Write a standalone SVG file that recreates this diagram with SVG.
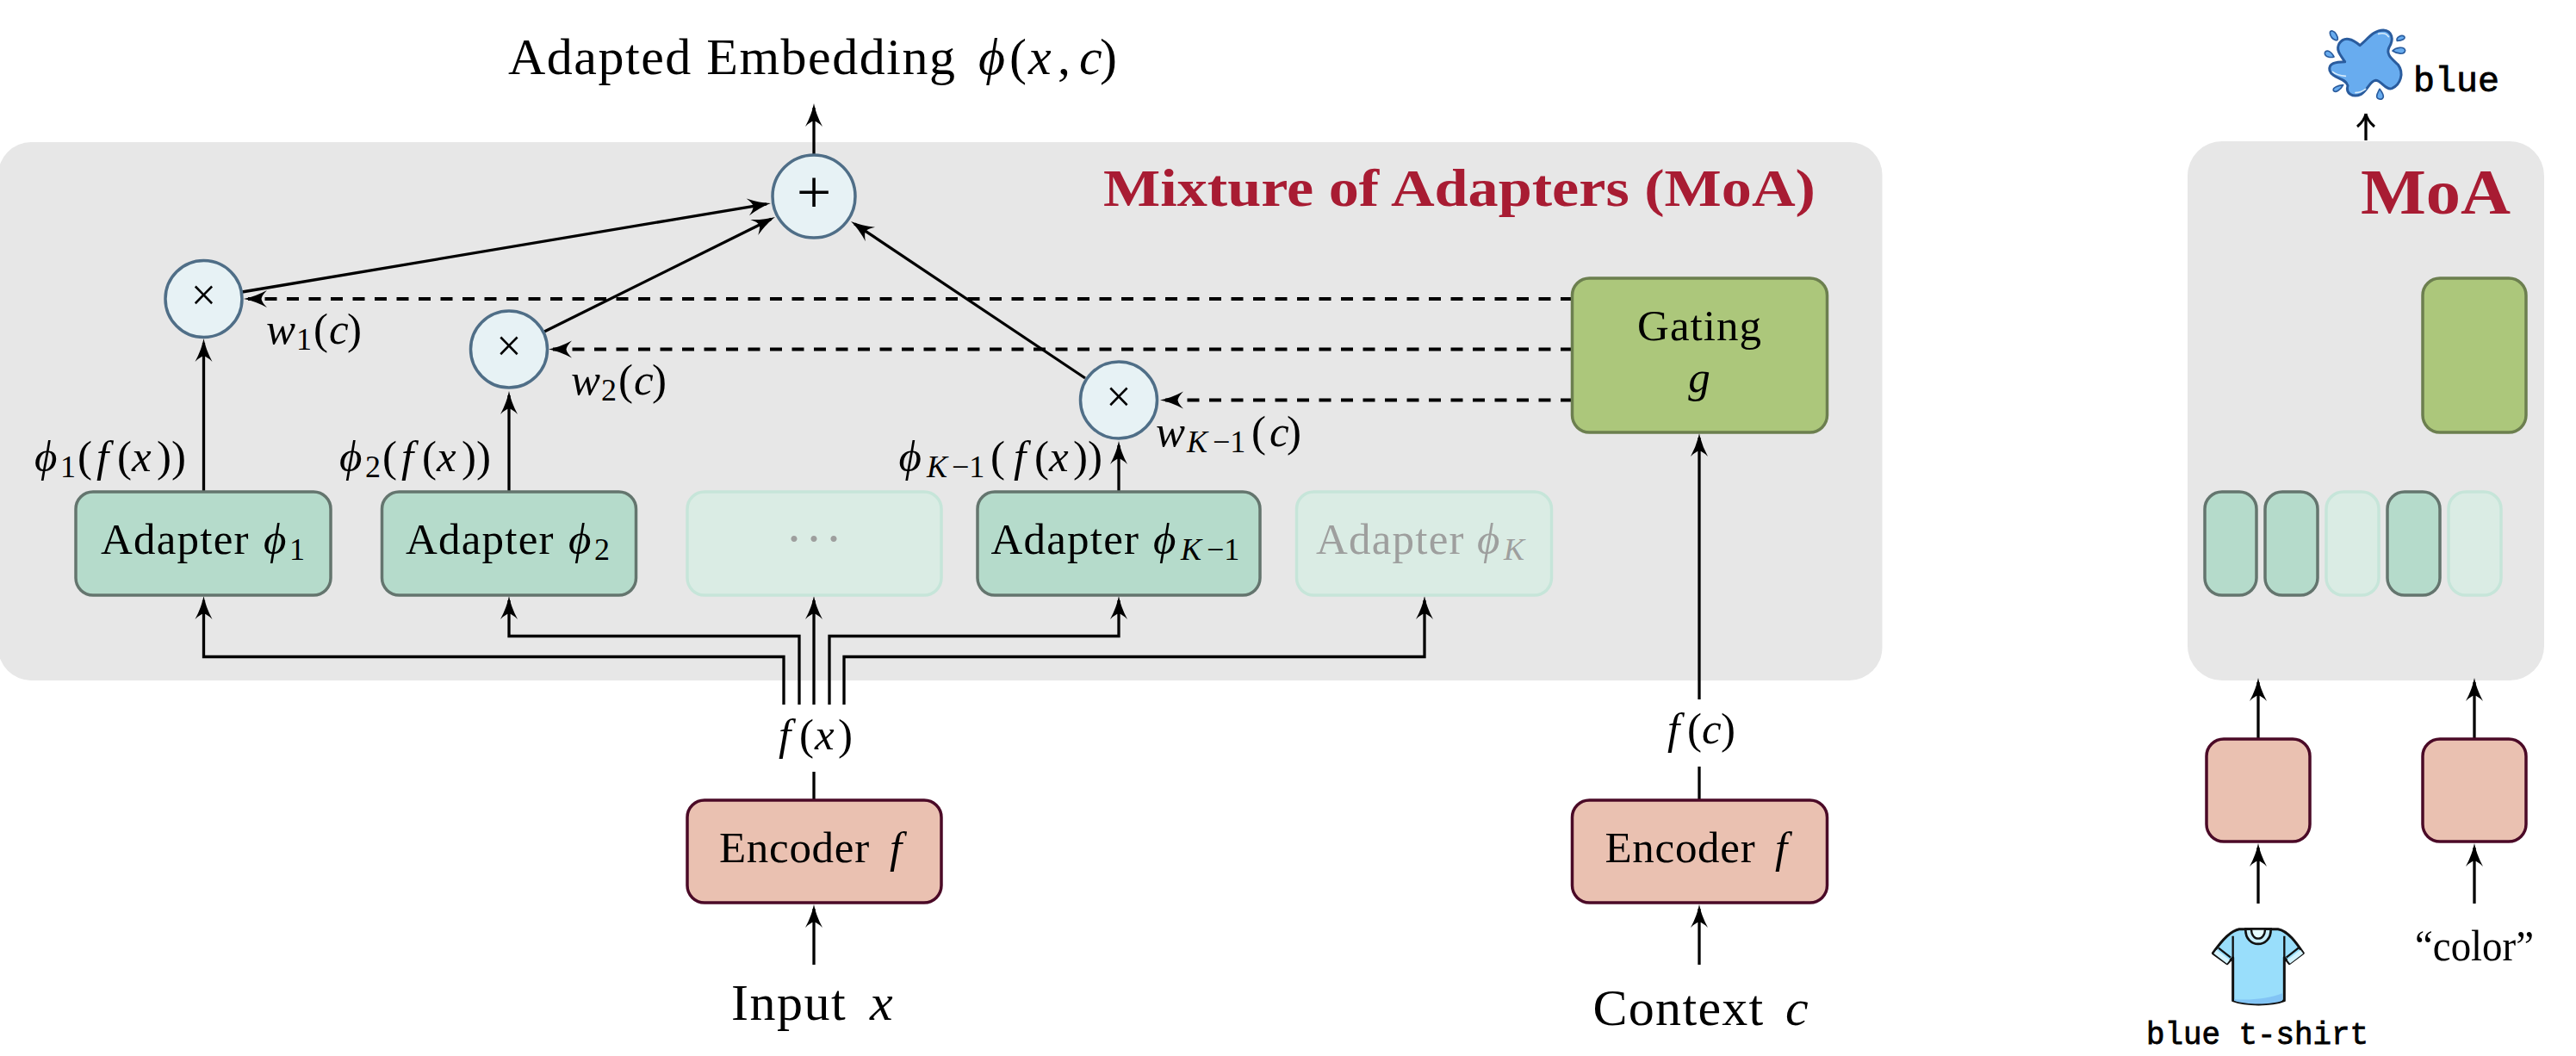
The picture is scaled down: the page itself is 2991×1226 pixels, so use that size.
<svg xmlns="http://www.w3.org/2000/svg" width="2991" height="1226" viewBox="0 0 2991 1226">
<style>
text{font-family:"Liberation Serif","Times New Roman",serif;fill:#000}
.t51{font-size:51px}.t60{font-size:60px}
.i{font-style:italic}
.s{font-size:36px}
.gray{fill:#9e9f9e}
.red{fill:#a81c33;font-weight:bold}
.mono{font-family:"Liberation Mono","Courier New",monospace;stroke:#000;stroke-width:.8}
.panel{fill:#e7e7e7}
.ad{fill:#b5dbcb;stroke:#64756e;stroke-width:3.5}
.fd{fill:#daece4;stroke:#c6e5d9;stroke-width:3.5}
.gt{fill:#acc77b;stroke:#6c7f4f;stroke-width:3.5}
.en{fill:#eac1b1;stroke:#4b0a27;stroke-width:3.5}
.ci{fill:#e7f2f5;stroke:#4f6e87;stroke-width:3.5}
.l{fill:none;stroke:#000;stroke-width:3.3;marker-end:url(#a)}
.n{fill:none;stroke:#000;stroke-width:3.3}
.d{fill:none;stroke:#000;stroke-width:4;stroke-dasharray:14 11.5;marker-end:url(#a)}
</style>
<defs>
<marker id="a" markerUnits="userSpaceOnUse" markerWidth="28" markerHeight="22" refX="22" refY="10" orient="auto" overflow="visible"><path d="M27 10Q14 7.5 0 0Q6 6 6.5 10Q6 14 0 20Q14 12.5 27 10Z" fill="#000"/></marker>
<marker id="b" markerUnits="userSpaceOnUse" markerWidth="16" markerHeight="22" refX="11" refY="10" orient="auto" overflow="visible"><path d="M15 10Q7 8.5 0 0M15 10Q7 11.5 0 20" fill="none" stroke="#000" stroke-width="3"/></marker>
</defs>

<g id="panels">
<rect id="moa-panel" class="panel" x="-2" y="165" width="2187.500" height="625" rx="38"/>
<rect id="moa-small-panel" class="panel" x="2540" y="164" width="414" height="626" rx="40"/>
</g>

<g id="connectors">
<path class="l" d="M945 180V125"/>
<path class="l" d="M281 339L890 236.8"/>
<path class="l" d="M632 385L895.5 254.2"/>
<path class="l" d="M1260 439L992.2 259.8"/>
<path class="d" d="M1826 347H288"/>
<path class="d" d="M1826 405.500H642"/>
<path class="d" d="M1826 464.500H1352"/>
<path class="l" d="M236.500 571V398"/>
<path class="l" d="M591 571V459"/>
<path class="l" d="M1299 571V517"/>
<path class="l" d="M910 818V762.500H236.500V697"/>
<path class="l" d="M928 818V738.500H591V697"/>
<path class="l" d="M945 818V697"/>
<path class="l" d="M963 818V738.500H1299V697"/>
<path class="l" d="M980 818V762.500H1654V697"/>
<path class="n" d="M945 929V896"/>
<path class="l" d="M945 1120V1055"/>
<path class="n" d="M1973 929V890"/>
<path class="l" d="M1973 812V508"/>
<path class="l" d="M1973 1120V1055"/>
<path class="n" d="M2747 163V136" style="marker-end:url(#b)"/>
<path class="l" d="M2622 858V792"/>
<path class="l" d="M2873 858V792"/>
<path class="l" d="M2622 1049V984"/>
<path class="l" d="M2873 1049V984"/>
</g>

<g id="title"><text class="t60" y="86"><tspan x="590" letter-spacing="1.500">Adapted Embedding</tspan><tspan x="1136" class="i">ϕ</tspan><tspan x="1172">(</tspan><tspan x="1194" class="i">x</tspan><tspan x="1228">,</tspan><tspan x="1253" class="i">c</tspan><tspan x="1277">)</tspan></text></g>
<g id="moa-title"><text class="red" font-size="62" x="1281" y="239" textLength="827" lengthAdjust="spacingAndGlyphs">Mixture of Adapters (MoA)</text></g>

<g id="node-sum"><circle class="ci" cx="945" cy="228" r="48"/><text x="945" y="247" font-size="72" text-anchor="middle">+</text></g>
<g id="node-mul-1"><circle class="ci" cx="236.500" cy="347" r="44.500"/><text x="236.500" y="360" font-size="52" text-anchor="middle">×</text></g>
<g id="node-mul-2"><circle class="ci" cx="591" cy="405.500" r="44.500"/><text x="591" y="418.500" font-size="52" text-anchor="middle">×</text></g>
<g id="node-mul-k"><circle class="ci" cx="1299" cy="464.500" r="44.500"/><text x="1299" y="477.500" font-size="52" text-anchor="middle">×</text></g>

<g id="node-gating"><rect class="gt" x="1825.500" y="323" width="296" height="179" rx="20"/><text class="t51" x="1973.500" y="395" text-anchor="middle" letter-spacing="1">Gating</text><text class="t51 i" x="1973" y="455" text-anchor="middle">g</text></g>

<g id="node-adapter-1"><rect class="ad" x="88" y="571" width="296" height="120" rx="20"/><text class="t51" y="643"><tspan x="117" letter-spacing="1.200">Adapter</tspan><tspan x="306" class="i">ϕ</tspan><tspan x="336" y="650" class="s">1</tspan></text></g>
<g id="node-adapter-2"><rect class="ad" x="443.500" y="571" width="295" height="120" rx="20"/><text class="t51" y="643"><tspan x="471" letter-spacing="1.200">Adapter</tspan><tspan x="660" class="i">ϕ</tspan><tspan x="690" y="650" class="s">2</tspan></text></g>
<g id="node-adapter-dots"><rect class="fd" x="798" y="571" width="295" height="120" rx="20"/><text x="922 945 968" y="645" font-size="60" class="gray" text-anchor="middle">···</text></g>
<g id="node-adapter-k1"><rect class="ad" x="1135" y="571" width="328" height="120" rx="20"/><text class="t51" y="643"><tspan x="1150.500" letter-spacing="1.200">Adapter</tspan><tspan x="1339" class="i">ϕ</tspan><tspan x="1371" y="650" class="s i">K</tspan><tspan x="1401" y="650" class="s">−1</tspan></text></g>
<g id="node-adapter-k"><rect class="fd" x="1505.500" y="571" width="296" height="120" rx="20"/><text class="t51 gray" y="643"><tspan x="1528" letter-spacing="1.200">Adapter</tspan><tspan class="i" x="1715">ϕ</tspan><tspan x="1746" y="650" class="s i">K</tspan></text></g>

<g id="node-encoder-1"><rect class="en" x="798" y="929" width="295" height="119" rx="20"/><text class="t51" y="1001"><tspan x="835" letter-spacing=".7">Encoder</tspan><tspan x="1033" class="i">f</tspan></text></g>
<g id="node-encoder-2"><rect class="en" x="1825.500" y="929" width="296" height="119" rx="20"/><text class="t51" y="1001"><tspan x="1863.500" letter-spacing=".7">Encoder</tspan><tspan x="2061" class="i">f</tspan></text></g>

<g id="labels">
<text class="t51" y="547"><tspan x="40" class="i">ϕ</tspan><tspan x="70" y="554" class="s">1</tspan><tspan x="90" y="547">(</tspan><tspan x="112" class="i">f</tspan><tspan x="136">(</tspan><tspan x="153" class="i">x</tspan><tspan x="182">))</tspan></text>
<text class="t51" y="547"><tspan x="394" class="i">ϕ</tspan><tspan x="424" y="554" class="s">2</tspan><tspan x="444" y="547">(</tspan><tspan x="466" class="i">f</tspan><tspan x="490">(</tspan><tspan x="507" class="i">x</tspan><tspan x="536">))</tspan></text>
<text class="t51" y="547"><tspan x="1043.500" class="i">ϕ</tspan><tspan x="1076" y="554" class="s i">K</tspan><tspan x="1105" y="554" class="s">−1</tspan><tspan x="1150" y="547">(</tspan><tspan x="1177" class="i">f</tspan><tspan x="1201">(</tspan><tspan x="1218" class="i">x</tspan><tspan x="1246">))</tspan></text>
<text class="t51" y="399"><tspan x="309" class="i">w</tspan><tspan x="344" y="406" class="s">1</tspan><tspan x="364" y="399">(</tspan><tspan x="382" class="i">c</tspan><tspan x="403">)</tspan></text>
<text class="t51" y="458"><tspan x="663" class="i">w</tspan><tspan x="698" y="465" class="s">2</tspan><tspan x="718" y="458">(</tspan><tspan x="736" class="i">c</tspan><tspan x="757">)</tspan></text>
<text class="t51" y="518"><tspan x="1342" class="i">w</tspan><tspan x="1378" y="525" class="s i">K</tspan><tspan x="1408" y="525" class="s">−1</tspan><tspan x="1453" y="518">(</tspan><tspan x="1474" class="i">c</tspan><tspan x="1494">)</tspan></text>
<text class="t51" y="869.500"><tspan x="904" class="i">f</tspan><tspan x="928">(</tspan><tspan x="946" class="i">x</tspan><tspan x="973">)</tspan></text>
<text class="t51" y="863"><tspan x="1936" class="i">f</tspan><tspan x="1959">(</tspan><tspan x="1976" class="i">c</tspan><tspan x="1998">)</tspan></text>
<text class="t60" y="1184"><tspan x="849" letter-spacing="1.500">Input</tspan><tspan x="1010" class="i">x</tspan></text>
<text class="t60" y="1190"><tspan x="1849.500" letter-spacing="1.300">Context</tspan><tspan x="2073" class="i">c</tspan></text>
</g>

<g id="small-title"><text class="red" font-size="74" x="2741" y="248" textLength="174" lengthAdjust="spacingAndGlyphs">MoA</text></g>
<g id="small-gating"><rect class="gt" x="2813" y="323" width="120" height="179" rx="20"/></g>
<g id="small-adapter-1"><rect class="ad" x="2560" y="571" width="60" height="120" rx="20"/></g>
<g id="small-adapter-2"><rect class="ad" x="2630" y="571" width="61" height="120" rx="20"/></g>
<g id="small-adapter-3"><rect class="fd" x="2701" y="571" width="61" height="120" rx="20"/></g>
<g id="small-adapter-4"><rect class="ad" x="2772" y="571" width="61" height="120" rx="20"/></g>
<g id="small-adapter-5"><rect class="fd" x="2843" y="571" width="61" height="120" rx="20"/></g>
<g id="small-encoder-1"><rect class="en" x="2562" y="858" width="120" height="119" rx="20"/></g>
<g id="small-encoder-2"><rect class="en" x="2813" y="858" width="120" height="119" rx="20"/></g>

<g id="icon-paint" transform="translate(2690 10) scale(.3333)">
<path d="M150 128C175 110 195 75 232 75C262 78 270 105 252 135C240 160 262 175 283 195C305 225 292 265 262 278C240 285 225 250 205 250C185 252 180 280 155 298C125 312 100 295 108 268C100 240 55 245 45 215C40 190 65 185 98 185C85 165 65 145 78 122C95 95 125 105 150 128Z" fill="#68acef" stroke="#2a5c9e" stroke-width="9" stroke-linejoin="round"/>
<path d="M215 88Q240 82 250 98M135 293Q155 292 170 280M55 220Q70 232 100 235" fill="none" stroke="#d8ecfb" stroke-width="5" stroke-linecap="round"/>
<path d="M46 85C46 72 62 78 68 90C76 104 74 112 66 110C56 108 46 96 46 85ZM28 155C30 142 48 145 60 168C48 172 28 168 28 155ZM58 285C55 275 75 268 92 266C84 282 64 296 58 285ZM209 305C210 295 216 287 219 280C225 288 232 298 232 306C232 320 208 318 209 305ZM280 112C275 100 295 90 305 97C310 105 298 112 280 112ZM264 147C275 135 305 130 308 146C306 162 280 158 264 147Z" fill="#68acef" stroke="#2a5c9e" stroke-width="5" stroke-linejoin="round"/>
</g>
<g id="label-blue"><text class="mono" font-size="40" x="2802" y="106" textLength="100" lengthAdjust="spacingAndGlyphs">blue</text></g>

<g id="icon-shirt" transform="translate(2490 1060) scale(.3333)">
<path d="M330 56H465C500 62 530 105 553 140L505 176L487 155V305C440 322 355 322 308 305V155L288 176L238 140C262 105 295 62 330 56Z" fill="#99defb" stroke="#111" stroke-width="9" stroke-linejoin="round"/>
<path d="M312 300C360 305 430 300 480 280V305C440 320 355 320 312 305Z" fill="#82c4f5"/>
<path d="M352 56C350 125 442 125 440 56Z" fill="#c8eefc" stroke="#111" stroke-width="8"/>
<path d="M372 56C372 100 420 100 420 56Z" fill="#e5fbff" stroke="#111" stroke-width="7"/>
<path d="M246 135L292 170M548 135L502 170" stroke="#d4f3fd" stroke-width="16" fill="none"/>
<path d="M258 122L300 155M536 122L494 155M308 80V155M487 80V155" stroke="#111" stroke-width="7" fill="none"/>
</g>
<g id="label-shirt"><text class="mono" font-size="36" x="2492" y="1212" textLength="258" lengthAdjust="spacingAndGlyphs">blue t-shirt</text></g>
<g id="label-color"><text font-size="50" x="2804" y="1115" textLength="138" lengthAdjust="spacingAndGlyphs">“color”</text></g>
</svg>
